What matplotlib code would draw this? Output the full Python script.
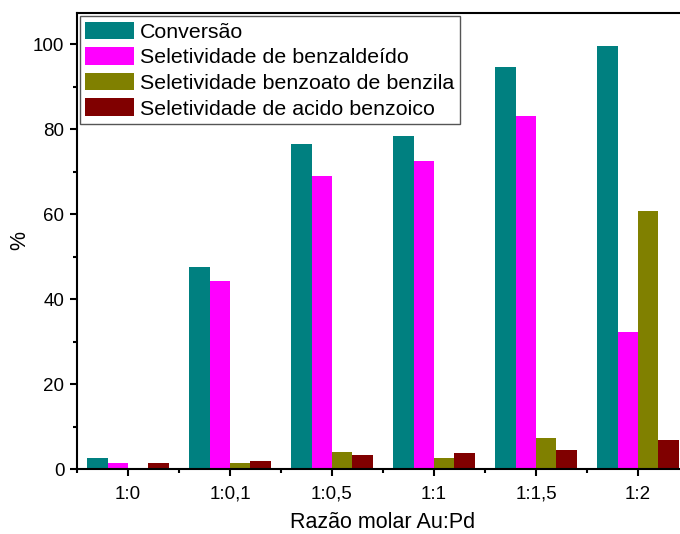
import numpy as np
import matplotlib
matplotlib.use('Agg')
import matplotlib.pyplot as plt
from matplotlib.ticker import MultipleLocator

plt.rcParams['font.family'] = ['Liberation Sans', 'DejaVu Sans']

# molar ratios on the x axis
ratios = ['1:0', '1:0,1', '1:0,5', '1:1', '1:1,5', '1:2']

# conversion and selectivities (%)
conversao = [2.7, 47.5, 76.4, 78.3, 94.6, 99.6]
sel_benzaldeido = [1.4, 44.2, 68.9, 72.4, 83.1, 32.3]
sel_benzoato = [0.0, 1.5, 4.0, 2.5, 7.3, 60.7]
sel_acido = [1.4, 2.0, 3.3, 3.7, 4.5, 6.8]

series = [
    ('Conversão', conversao, '#008080'),
    ('Seletividade de benzaldeído', sel_benzaldeido, '#ff00ff'),
    ('Seletividade benzoato de benzila', sel_benzoato, '#808000'),
    ('Seletividade de acido benzoico', sel_acido, '#800000'),
]

fig = plt.figure(figsize=(6.8, 5.34), dpi=100)
# right side of the frame runs past the figure edge
ax = fig.add_axes([0.1132, 0.1217, 0.9, 0.854])

x = np.arange(len(ratios))
width = 0.2
for i, (label, vals, color) in enumerate(series):
    ax.bar(x + (i - 1.5) * width, vals, width, color=color, label=label,
           linewidth=0)

ax.set_xlim(-0.5, len(ratios) - 0.5)
ax.set_ylim(0, 107.3)
ax.set_xticks(x)
ax.set_xticklabels(ratios)
ax.xaxis.set_minor_locator(MultipleLocator(1, offset=0.5))
ax.yaxis.set_major_locator(MultipleLocator(20))
ax.yaxis.set_minor_locator(MultipleLocator(10))

for side in ax.spines.values():
    side.set_linewidth(1.5)
ax.tick_params(which='major', direction='out', length=5, width=1.5,
               labelsize=13.5, pad=4)
ax.tick_params(which='minor', direction='out', length=3, width=1.5)
ax.tick_params(axis='x', which='major', pad=7)

ax.set_xlabel('Razão molar Au:Pd', fontsize=15.5, labelpad=7)
ax.set_ylabel('%', fontsize=15.5)
ax.yaxis.set_label_coords(-0.077, 0.5)

leg = ax.legend(loc='upper left', bbox_to_anchor=(0.005, 0.993),
                borderaxespad=0, fontsize=15.4, fancybox=False,
                handlelength=2.25, handleheight=0.9, handletextpad=0.3,
                labelspacing=0.25, borderpad=0.25, framealpha=1)
leg.get_frame().set_edgecolor('#555555')
leg.get_frame().set_linewidth(1.0)

fig.savefig('out.png', dpi=100)
